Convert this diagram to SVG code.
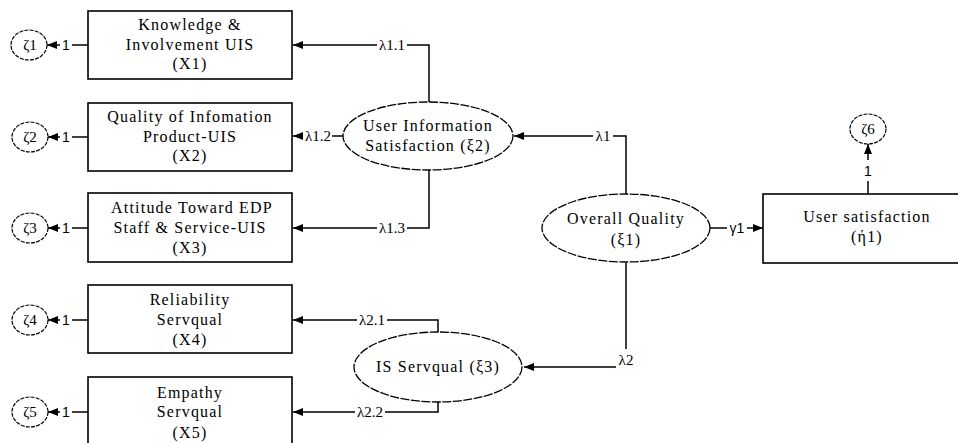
<svg xmlns="http://www.w3.org/2000/svg" width="958" height="443" viewBox="0 0 958 443">
<style>
.box{fill:#fff;stroke:#000;stroke-width:1.6}
.lat{fill:#fff;stroke:#000;stroke-width:1.3;stroke-dasharray:9 1.5}
.err{fill:#fff;stroke:#000;stroke-width:1.2;stroke-dasharray:4 1.2}
.t{font-family:"Liberation Serif","Times New Roman",serif;font-size:16px;letter-spacing:1.2px;fill:#000;text-anchor:middle}
.lab{font-family:"Liberation Serif","Times New Roman",serif;font-size:15px;fill:#000;text-anchor:middle}
.one{font-family:"Liberation Sans",Arial,sans-serif;font-size:14px;fill:#000;text-anchor:middle}
.z{font-family:"Liberation Serif","Times New Roman",serif;font-size:15px;fill:#000;text-anchor:middle}
.bg{fill:#fff;stroke:none}
.c{fill:none;stroke:#000;stroke-width:1.5;marker-end:url(#ah)}
</style>
<defs>
<marker id="ah" markerUnits="userSpaceOnUse" markerWidth="10" markerHeight="8" refX="10" refY="4" orient="auto">
<path d="M0,0 L10,4 L0,8 Z" fill="#000"/>
</marker>
</defs>

<g id="connectors">
<path class="c" d="M429,102 V45 H293"/>
<path class="c" d="M343,136 H293"/>
<path class="c" d="M429,170 V228 H293"/>
<path class="c" d="M626,194 V136 H514"/>
<path class="c" d="M438,332 V320 H293"/>
<path class="c" d="M438,402 V412 H293"/>
<path class="c" d="M626,263 V367 H524"/>
<path class="c" d="M710,228 H763"/>
<path class="c" d="M868,194 V144"/>
<path class="c" d="M88,45 H47"/>
<path class="c" d="M88,137 H48"/>
<path class="c" d="M88,228 H48"/>
<path class="c" d="M88,320 H48"/>
<path class="c" d="M88,412 H48"/>
<rect class="bg" x="377" y="37" width="30" height="16"/>
<rect class="bg" x="303" y="128" width="29" height="16"/>
<rect class="bg" x="377" y="220" width="30" height="16"/>
<rect class="bg" x="593" y="128" width="20" height="16"/>
<rect class="bg" x="357" y="312" width="30" height="16"/>
<rect class="bg" x="355" y="404" width="30" height="16"/>
<rect class="bg" x="616" y="349" width="20" height="20"/>
<rect class="bg" x="727" y="220" width="20" height="16"/>
<rect class="bg" x="862" y="160" width="12" height="21"/>
<rect class="bg" x="60" y="37" width="12" height="16"/>
<rect class="bg" x="60" y="129" width="12" height="16"/>
<rect class="bg" x="60" y="220" width="12" height="16"/>
<rect class="bg" x="60" y="312" width="12" height="16"/>
<rect class="bg" x="60" y="404" width="12" height="16"/>
<text class="lab" x="392" y="50">λ1.1</text>
<text class="lab" x="318" y="141">λ1.2</text>
<text class="lab" x="392" y="233">λ1.3</text>
<text class="lab" x="603" y="141">λ1</text>
<text class="lab" x="372" y="325">λ2.1</text>
<text class="lab" x="370" y="417">λ2.2</text>
<text class="lab" x="626" y="365">λ2</text>
<text class="one" x="737" y="233">γ1</text>
<text class="one" x="868" y="176">1</text>
<text class="one" x="66" y="50">1</text>
<text class="one" x="66" y="142">1</text>
<text class="one" x="66" y="233">1</text>
<text class="one" x="66" y="325">1</text>
<text class="one" x="66" y="417">1</text>
</g>

<g id="x1">
<rect class="box" x="88" y="11" width="204" height="68"/>
<text class="t" x="190" y="30">Knowledge &amp;</text>
<text class="t" x="190" y="50">Involvement UIS</text>
<text class="t" x="190" y="69">(X1)</text>
</g>
<g id="x2">
<rect class="box" x="88" y="103" width="204" height="68"/>
<text class="t" x="190" y="122">Quality of Infomation</text>
<text class="t" x="190" y="142">Product-UIS</text>
<text class="t" x="190" y="161">(X2)</text>
</g>
<g id="x3">
<rect class="box" x="88" y="193" width="204" height="69"/>
<text class="t" x="192" y="213">Attitude Toward EDP</text>
<text class="t" x="190" y="233">Staff &amp; Service-UIS</text>
<text class="t" x="190" y="253">(X3)</text>
</g>
<g id="x4">
<rect class="box" x="88" y="285" width="204" height="68"/>
<text class="t" x="190" y="305">Reliability</text>
<text class="t" x="190" y="325">Servqual</text>
<text class="t" x="190" y="345">(X4)</text>
</g>
<g id="x5">
<rect class="box" x="88" y="377" width="204" height="80"/>
<text class="t" x="190" y="398">Empathy</text>
<text class="t" x="190" y="417">Servqual</text>
<text class="t" x="190" y="438">(X5)</text>
</g>

<g id="z1"><ellipse class="err" cx="29" cy="45" rx="18" ry="15"/><text class="z" x="30" y="50">ζ1</text></g>
<g id="z2"><ellipse class="err" cx="30" cy="137" rx="18" ry="15"/><text class="z" x="30" y="142">ζ2</text></g>
<g id="z3"><ellipse class="err" cx="30" cy="228" rx="18" ry="15"/><text class="z" x="30" y="233">ζ3</text></g>
<g id="z4"><ellipse class="err" cx="30" cy="320" rx="18" ry="15"/><text class="z" x="30" y="325">ζ4</text></g>
<g id="z5"><ellipse class="err" cx="30" cy="412" rx="18" ry="15"/><text class="z" x="30" y="417">ζ5</text></g>
<g id="z6"><ellipse class="err" cx="868" cy="129" rx="18" ry="15"/><text class="z" x="868" y="134">ζ6</text></g>

<g id="uis">
<ellipse class="lat" cx="428" cy="136" rx="85" ry="34"/>
<text class="t" x="428" y="131">User Information</text>
<text class="t" x="428" y="151">Satisfaction (ξ2)</text>
</g>
<g id="overall">
<ellipse class="lat" cx="626" cy="228" rx="84" ry="34"/>
<text class="t" x="626" y="224">Overall Quality</text>
<text class="t" x="626" y="245">(ξ1)</text>
</g>
<g id="isserv">
<ellipse class="lat" cx="438" cy="367" rx="84" ry="35"/>
<text class="t" x="438" y="372">IS Servqual (ξ3)</text>
</g>
<g id="usersat">
<rect class="box" x="763" y="194" width="220" height="69"/>
<text class="t" x="867" y="222">User satisfaction</text>
<text class="t" x="867" y="242">(ή1)</text>
</g>
</svg>
